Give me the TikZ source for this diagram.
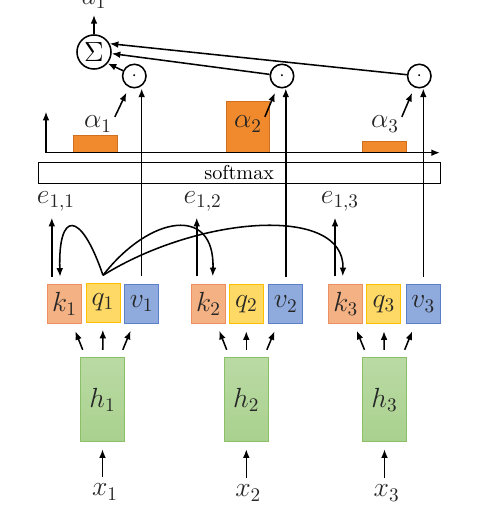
\documentclass[tikz,border=0pt]{standalone}
\usetikzlibrary{positioning,arrows.meta}
\definecolor{keyc}{HTML}{F4B183}
\definecolor{keyd}{HTML}{EE8F62}
\definecolor{qryc}{HTML}{FFD966}
\definecolor{qryd}{HTML}{FFC000}
\definecolor{valc}{HTML}{8FAADC}
\definecolor{vald}{HTML}{5B7FC8}
\definecolor{hidc}{HTML}{A9D18E}
\definecolor{hidd}{HTML}{8CC068}
\definecolor{barc}{HTML}{F08A2C}
\definecolor{bard}{HTML}{D0701E}
\definecolor{txt}{HTML}{262626}
\newcommand{\lblsize}{\fontsize{13.8}{16}\selectfont}

\begin{document}
\begin{tikzpicture}[x=0.52pt,y=-0.52pt,>={Latex[length=4.5pt,width=3.5pt]},
  arr/.style={->,thick},
  lbl/.style={font=\lblsize,text=txt},
  cell/.style={draw,minimum width=17.7pt,minimum height=20.3pt,inner sep=0pt,outer sep=4pt,font=\lblsize,text=txt},
  kbox/.style={cell,fill=keyc,draw=keyd},
  qbox/.style={cell,fill=qryc,draw=qryd},
  vbox/.style={cell,fill=valc,draw=vald},
  hbox/.style={draw=hidd,top color=hidc!80,bottom color=hidc,minimum width=22.9pt,minimum height=43.7pt,inner sep=0pt,outer sep=4pt,font=\lblsize,text=txt},
  bar/.style={fill=barc,draw=bard},
  odot/.style={draw,thick,circle,minimum size=12.2pt,inner sep=0pt},
  sbox/.style={draw,thick,circle,minimum size=17.7pt,inner sep=0pt,font=\lblsize}]

  \useasboundingbox (0,0) rectangle (484,522);

  % inputs and hidden states
  \node[hbox] (h1) at (102.5,399.5) {$h_1$};
  \node[hbox] (h2) at (246.3,399.5) {$h_2$};
  \node[hbox] (h3) at (384.5,399.5) {$h_3$};
  \node[lbl] (x1) at (105,492) {$x_1$};
  \node[lbl] (x2) at (248.3,493) {$x_2$};
  \node[lbl] (x3) at (386.7,493) {$x_3$};
  \draw[arr] (h1 |- x1.north) -- (h1);
  \draw[arr] (h2 |- x2.north) -- (h2);
  \draw[arr] (h3 |- x3.north) -- (h3);

  % keys, queries, values
  \node[kbox] (k1) at (64.5,304) {$k_1$};
  \node[qbox] (q1) at (103,302.5) {$q_1$};
  \node[vbox] (v1) at (141.7,303.5) {$v_1$};
  \node[kbox] (k2) at (208.5,303.5) {$k_2$};
  \node[qbox] (q2) at (246.3,304) {$q_2$};
  \node[vbox] (v2) at (285.8,304) {$v_2$};
  \node[kbox] (k3) at (345.8,303.5) {$k_3$};
  \node[qbox] (q3) at (383.8,304) {$q_3$};
  \node[vbox] (v3) at (423.3,304) {$v_3$};
  \draw[arr] (h1) -- (k1);
  \draw[arr] (h1) -- (q1);
  \draw[arr] (h1) -- (v1);
  \draw[arr] (h2) -- (k2);
  \draw[arr] (h2) -- (q2);
  \draw[arr] (h2) -- (v2);
  \draw[arr] (h3) -- (k3);
  \draw[arr] (h3) -- (q3);
  \draw[arr] (h3) -- (v3);

  % scores
  \node[lbl] (e11) at (56,201) {$e_{1,1}$};
  \node[lbl] (e12) at (202.7,201) {$e_{1,2}$};
  \node[lbl] (e13) at (340,201) {$e_{1,3}$};
  \draw[arr] ([xshift=-6.6pt]k1.north) -- ([xshift=-6.6pt]k1.north |- e11.south);
  \draw[arr] ([xshift=-6.1pt]k2.north) -- ([xshift=-6.1pt]k2.north |- e12.south);
  \draw[arr] ([xshift=-5.6pt]k3.north) -- ([xshift=-5.6pt]k3.north |- e13.south);

  % q1 against every key
  \draw[arr] (q1.north) .. controls (80,208) and (58,212) .. ([xshift=-2.3pt]k1.north);
  \draw[arr] (q1.north) .. controls (150,215) and (215,205) .. ([xshift=2.2pt]k2.north);
  \draw[arr] (q1.north) .. controls (200,215) and (345,205) .. ([xshift=-1.6pt]k3.north);

  % softmax and weights
  \node[draw,semithick,minimum width=209pt,minimum height=11pt,inner sep=0pt,font=\fontsize{10.5}{12}\selectfont] (soft) at (239.2,172.8) {softmax};
  \draw[bar] (73.3,152.7) rectangle (117.7,135);
  \draw[bar] (226,152.7) rectangle (269,101.7);
  \draw[bar] (362.3,152.7) rectangle (406,141.7);
  \coordinate (org) at (46,152.7);
  \draw[arr] (org) -- ++(0,-41);
  \draw[arr] (org) -- ++(394,0);
  \node[lbl] (al1) at (98,124) {$\alpha_1$};
  \node[lbl] (al2) at (248,124) {$\alpha_2$};
  \node[lbl] (al3) at (385,124) {$\alpha_3$};

  % weighted values
  \node[odot] (o1) at (134.3,76) {$\cdot$};
  \node[odot] (o2) at (282,76) {$\cdot$};
  \node[odot] (o3) at (419.3,76) {$\cdot$};
  \draw[arr,shorten >=3pt] ([xshift=-2pt,yshift=-4pt]al1.north east) -- (o1);
  \draw[arr,shorten >=3pt] ([xshift=-2pt,yshift=-4pt]al2.north east) -- (o2);
  \draw[arr,shorten >=3pt] ([xshift=-2pt,yshift=-4pt]al3.north east) -- (o3);
  \draw[arr] (v1.north) -- (v1.north |- o1.south);
  \draw[arr] (v2.north) -- (v2.north |- o2.south);
  \draw[arr] (v3.north) -- (v3.north |- o3.south);

  \node[sbox] (sig) at (94,52) {$\Sigma$};
  \node[lbl] (out) [above=10pt of sig] {$a_1$};
  \draw[arr] (o1) -- (sig.-40);
  \draw[arr] (o2) -- (sig.-5);
  \draw[arr] (o3) -- (sig.28);
  \draw[arr] (sig) -- (out);

\end{tikzpicture}
\end{document}
